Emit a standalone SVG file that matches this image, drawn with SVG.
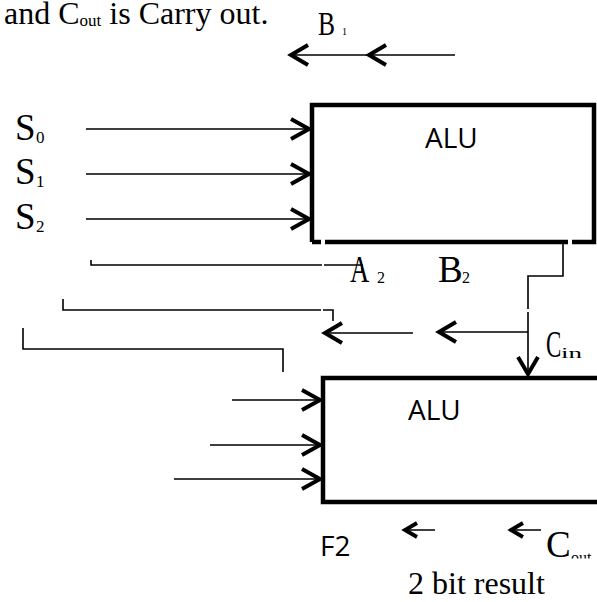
<svg xmlns="http://www.w3.org/2000/svg" width="597" height="602" viewBox="0 0 597 602">
<style>
.serif{font-family:"Liberation Serif","Times New Roman",serif;fill:#000}
.sans{font-family:"Open Sans","Noto Sans",sans-serif;fill:#000;font-size:28px}
.box{fill:none;stroke:#000;stroke-width:4.5}
.wire{fill:none;stroke:#000;stroke-width:1.6}
.head{fill:none;stroke:#000;stroke-width:4;stroke-linecap:butt;stroke-linejoin:miter}
.headS{fill:none;stroke:#000;stroke-width:3.8;stroke-linejoin:miter}
</style>
<defs>
<clipPath id="coutclip"><rect x="540" y="520" width="60" height="38.5"/></clipPath>
</defs>
<rect width="597" height="602" fill="#fff"/>

<g id="caption">
<text class="serif" x="4" y="24" font-size="32">and C<tspan font-size="17" dy="2">out</tspan><tspan dy="-2"> is Carry out.</tspan></text>
</g>

<g id="alu1">
<path class="box" d="M312,242 V105 H594 V242 H572 M568,242 H325 M321,242 H312"/>
<text class="sans" x="425" y="148">ALU</text>
</g>

<g id="alu2">
<path class="box" d="M620,378 H323 V502 H620"/>
<text class="sans" x="408" y="420">ALU</text>
</g>

<g id="labels">
<text class="serif" font-size="34" transform="translate(318,35) scale(0.75,1)">B</text>
<text class="serif" x="342" y="35" font-size="10">1</text>
<text class="serif" x="15" y="140" font-size="37">S</text>
<text class="serif" x="36" y="143" font-size="17">0</text>
<text class="serif" x="15" y="184" font-size="37">S</text>
<text class="serif" x="36" y="187" font-size="17">1</text>
<text class="serif" x="15" y="229" font-size="37">S</text>
<text class="serif" x="36" y="232" font-size="17">2</text>
<text class="serif" font-size="37" transform="translate(350,282) scale(0.72,1)">A</text>
<text class="serif" x="377" y="283" font-size="16">2</text>
<text class="serif" x="438" y="282" font-size="37">B</text>
<text class="serif" x="462" y="283" font-size="16">2</text>
<text class="serif" font-size="37" transform="translate(546,357) scale(0.62,1)">C</text>
<text class="serif" x="561" y="358" font-size="15" textLength="21" lengthAdjust="spacingAndGlyphs">in</text>
<text class="sans" x="320" y="556">F2</text>
<text class="serif" x="546" y="557" font-size="37">C</text>
<text class="serif" x="571" y="563" font-size="16" clip-path="url(#coutclip)">out</text>
<text class="serif" x="408" y="594" font-size="32">2 bit result</text>
</g>

<g id="connectors">
<!-- B1 arrows -->
<path class="wire" d="M290,55 H455"/>
<path class="head" d="M308,45 L291,55 L308,65 M386,45 L369,55 L386,65"/>
<!-- S inputs -->
<path class="wire" d="M86,129 H310 M86,174 H310 M86,219 H310"/>
<path class="head" d="M291,119 L309,129 L291,139 M291,164 L309,174 L291,184 M291,209 L309,219 L291,229"/>
<!-- brackets -->
<path class="wire" d="M91,260 V265 H322 M324,265 H362 V271"/>
<path class="wire" d="M63,299 V310 H321 M323,310 H333 V321"/>
<path class="wire" d="M23,328 V349 H283 V372"/>
<!-- carry route -->
<path class="wire" d="M563,244 V276 H528 V309 M528,312 V374"/>
<path class="head" d="M518,357 L528,374 L538,357"/>
<path class="wire" d="M437,332 H528 M323,333 H413"/>
<path class="head" d="M342,323 L325,333 L342,343 M456,322 L439,332 L456,342"/>
<!-- bottom inputs -->
<path class="wire" d="M232,400 H321 M210,445 H321 M174,479 H321"/>
<path class="head" d="M302,390 L320,400 L302,410 M302,435 L320,445 L302,455 M302,469 L320,479 L302,489"/>
<!-- bottom outputs -->
<path class="wire" d="M404,530 H435 M510,530 H541"/>
<path class="headS" d="M417,523 L405,530 L417,537 M523,523 L511,530 L523,537"/>
</g>
</svg>
